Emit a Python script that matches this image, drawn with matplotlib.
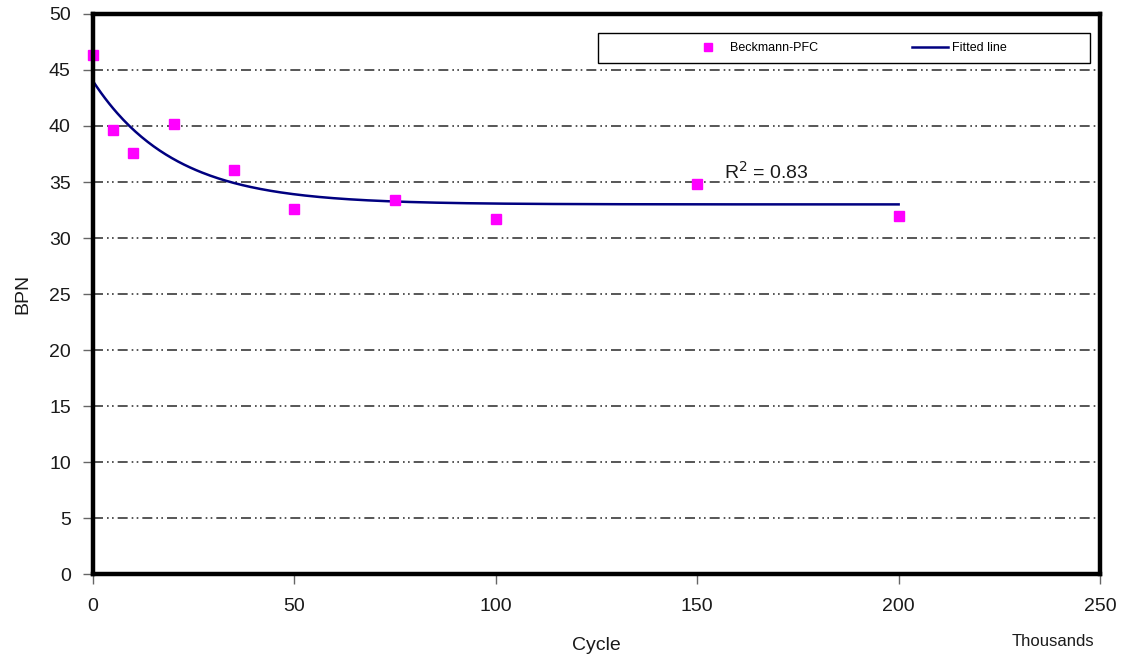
import numpy as np
import matplotlib
matplotlib.use("Agg")
import matplotlib.pyplot as plt
from matplotlib.lines import Line2D
from matplotlib.patches import Rectangle

plt.rcParams['font.family'] = ['Liberation Sans', 'DejaVu Sans']

# Measured BPN values at each cycle count (thousands)
cycles = [0, 5, 10, 20, 35, 50, 75, 100, 150, 200]
bpn = [46.3, 39.6, 37.6, 40.2, 36.1, 32.6, 33.4, 31.7, 34.8, 32.0]

# Exponential decay fit: y = fit_floor + fit_amp * exp(-x / fit_scale)
fit_floor = 33.0
fit_amp = 11.0
fit_scale = 20.0
r_squared = 0.83

x_ticks = [0, 50, 100, 150, 200, 250]
y_ticks = list(range(0, 51, 5))

fig = plt.figure(figsize=(11.25, 6.57), dpi=100)
ax = fig.add_axes([0.0827, 0.1263, 0.8951, 0.8524])

ax.set_xlim(0, 250)
ax.set_ylim(0, 50)
ax.set_xticks(x_ticks)
ax.set_yticks(y_ticks)
ax.tick_params(axis='both', direction='out', length=7, width=1, color='#666666',
               labelsize=14, labelcolor='#1a1a1a')
ax.tick_params(axis='y', pad=9)
ax.tick_params(axis='x', pad=10)

for s in ax.spines.values():
    s.set_linewidth(3.2)
    s.set_color('black')
    s.set_zorder(5)

# dash-dot-dot horizontal grid
for yv in y_ticks[1:-1]:
    ax.axhline(yv, color='#3a3a3a', lw=1.2,
               dashes=(6.0, 2.4, 1.0, 2.0, 1.0, 2.4), zorder=1)

xf = np.linspace(cycles[0], cycles[-1], 400)
yf = fit_floor + fit_amp * np.exp(-xf / fit_scale)
ax.plot(xf, yf, color='#000080', lw=1.8, zorder=3, clip_on=False)
ax.plot(cycles, bpn, 's', color='#ff00ff', ms=7, mec='#ff00ff', zorder=4,
        clip_on=False, linestyle='none')

ax.text(156.7, 34.9, r'R$^2$ = ' + f'{r_squared:.2f}', fontsize=14,
        ha='left', va='bottom', color='#1a1a1a',
        math_fontfamily='dejavusans')

ax.set_ylabel('BPN', fontsize=14, labelpad=13, color='#1a1a1a')
ax.set_xlabel('Cycle', fontsize=14, labelpad=16, color='#1a1a1a')
fig.text(0.936, 0.012, 'Thousands', fontsize=12, ha='center', va='bottom',
         color='#1a1a1a')

# legend box with its entries laid out inside
ax.add_patch(Rectangle((0.501, 0.9125), 0.489, 0.0536, transform=ax.transAxes,
                       facecolor='white', edgecolor='black', lw=1.0,
                       zorder=6, clip_on=False))
handles = [
    Line2D([], [], marker='s', color='#ff00ff', ms=6, linestyle='none'),
    Line2D([], [], color='#000080', lw=1.8),
]
leg = ax.legend(handles, ['Beckmann-PFC', 'Fitted line'], ncol=2,
                loc='center left', bbox_to_anchor=(0.593, 0.9393),
                fontsize=9, frameon=False, handlelength=2.9,
                handletextpad=0.3, columnspacing=7.5, borderpad=0,
                borderaxespad=0)
leg.set_zorder(7)

fig.savefig('out.png', dpi=100)
